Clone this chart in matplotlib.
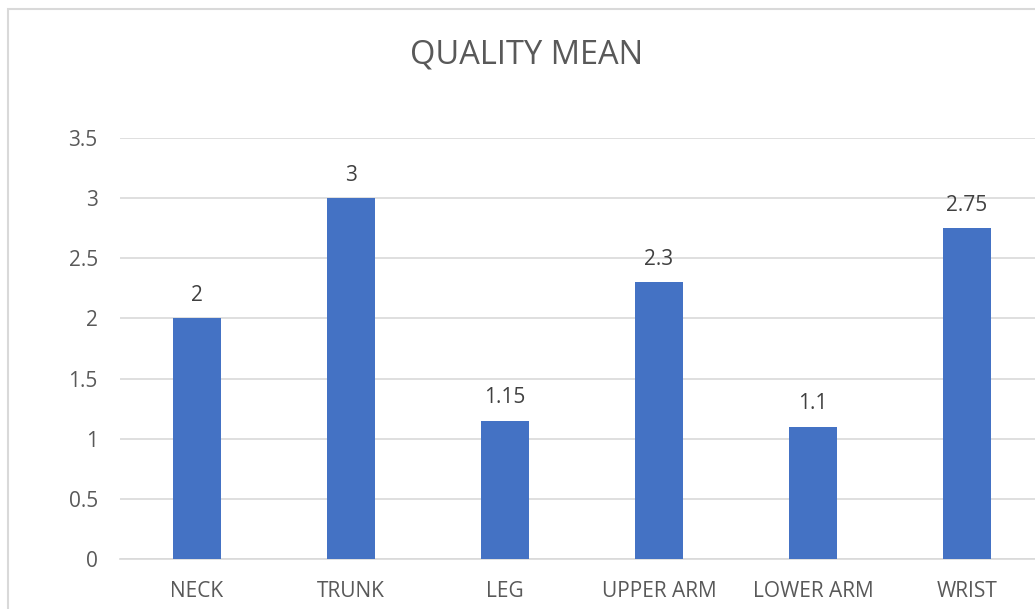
import matplotlib
matplotlib.use("Agg")
import matplotlib.pyplot as plt
from matplotlib.patches import Rectangle

categories = ["NECK", "TRUNK", "LEG", "UPPER ARM", "LOWER ARM", "WRIST"]
values = [2, 3, 1.15, 2.3, 1.1, 2.75]
labels = ["2", "3", "1.15", "2.3", "1.1", "2.75"]
yticks = [0, 0.5, 1, 1.5, 2, 2.5, 3, 3.5]
ytick_labels = ["0", "0.5", "1", "1.5", "2", "2.5", "3", "3.5"]

plt.rcParams['font.family'] = ['Open Sans', 'DejaVu Sans']
W, H = 1035, 609
fig = plt.figure(figsize=(W/100, H/100), dpi=100)
fig.patch.set_facecolor("white")

# chart border
fig.patches.append(Rectangle((8/W, -0.5), 2.0, (H-9)/H + 0.5, transform=fig.transFigure,
                             fill=False, edgecolor="#d9d9d9", linewidth=1.5))

ax = fig.add_axes([120/W, 50/H, 924/W, 421/H])
x = range(len(categories))
bars = ax.bar(x, values, width=0.31, color="#4472C4", zorder=3)
ax.set_xlim(-0.5, len(categories)-0.5)
ax.set_ylim(0, 3.5)
ax.set_yticks(yticks)
ax.set_yticklabels(ytick_labels)
ax.set_xticks(list(x))
ax.set_xticklabels(categories)
ax.grid(axis="y", color="#d9d9d9", linewidth=1.2, zorder=0)
for s in ["top", "right", "left"]:
    ax.spines[s].set_visible(False)
ax.spines["bottom"].set_color("#d9d9d9")
ax.spines["bottom"].set_linewidth(1.2)
ax.tick_params(axis="both", length=0, colors="#595959", labelsize=15)
ax.tick_params(axis="y", pad=16)
ax.tick_params(axis="x", pad=16)
for b, lab in zip(bars, labels):
    ax.annotate(lab, (b.get_x() + b.get_width()/2, b.get_height()),
                xytext=(0, 9), textcoords="offset points", ha="center", va="bottom",
                fontsize=15, color="#404040")

fig.text(527/W, 1 - 55/H, "QUALITY MEAN", ha="center", va="center", fontsize=23.5, color="#595959")

fig.savefig("out.png", dpi=100)
